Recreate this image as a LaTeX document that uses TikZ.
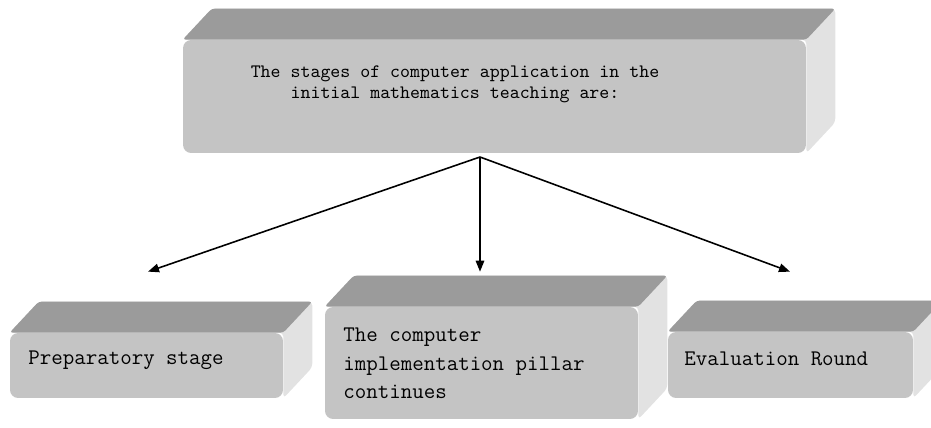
\documentclass[tikz,border=0pt]{standalone}
\usepackage{fontspec}
\usetikzlibrary{calc,backgrounds,arrows.meta}
\definecolor{frontgray}{HTML}{C4C4C4}
\definecolor{topgray}{HTML}{9B9B9B}
\definecolor{sidegray}{HTML}{E2E2E2}
\begin{document}
\begin{tikzpicture}[x=0.02cm, y=-0.02cm, >={Triangle[length=0.22cm, width=0.17cm]},
    front/.style={rectangle, rounded corners=0.16cm, fill=frontgray, inner sep=0pt},
    headtxt/.style={font=\ttfamily\fontsize{10.8pt}{12pt}\selectfont, align=center, inner sep=0pt},
    boxtxt/.style={font=\ttfamily\fontsize{12.7pt}{16pt}\selectfont, align=left, inner sep=0pt},
    arr/.style={->, line width=0.9pt}]
    \useasboundingbox (0,0) rectangle (931,428);
    % Boxes
    \node[front, minimum width=12.46cm, minimum height=2.26cm] (top) at (494.5,96.5) {};
    \node[front, minimum width=5.46cm, minimum height=1.30cm] (prep) at (146.5,365.5) {};
    \node[front, minimum width=6.26cm, minimum height=2.24cm] (impl) at (481.5,363) {};
    \node[front, minimum width=4.90cm, minimum height=1.32cm] (eval) at (790.5,365) {};

    % 3D faces
    \begin{scope}[on background layer]
        \foreach \n in {top,prep,impl,eval}{
            \fill[sidegray, rounded corners=0.08cm] (\n.north west) -- ($(\n.north west)+(29,-31)$)
                -- ($(\n.north east)+(29,-31)$) -- ($(\n.south east)+(29,-31)$)
                -- (\n.south east) -- (\n.north east) -- cycle;
            \fill[topgray, rounded corners=0.06cm] (\n.north west) -- ($(\n.north west)+(29,-31)$)
                -- ($(\n.north east)+(29,-31)$) -- (\n.north east) -- cycle;
        }
    \end{scope}

    % Texts
    \node[headtxt, anchor=north] (topT) at (455,65) {The stages of computer application in the\\initial mathematics teaching are:};
    \node[boxtxt, anchor=base west] (prepT) at (28,365) {Preparatory stage};
    \node[boxtxt, anchor=north west] (implT) at (343,328) {The computer\\implementation pillar\\continues};
    \node[boxtxt, anchor=base west] (evalT) at (684,366) {Evaluation Round};

    % Edges
    \coordinate (hub) at (480,157);
    \draw[arr] (hub) -- ($(prep.north)+(1.5,-61)$);
    \draw[arr] (hub) -- ($(impl.north)+(-1.5,-35)$);
    \draw[arr] (hub) -- ($(eval.north)+(-0.5,-60)$);
\end{tikzpicture}
\end{document}
